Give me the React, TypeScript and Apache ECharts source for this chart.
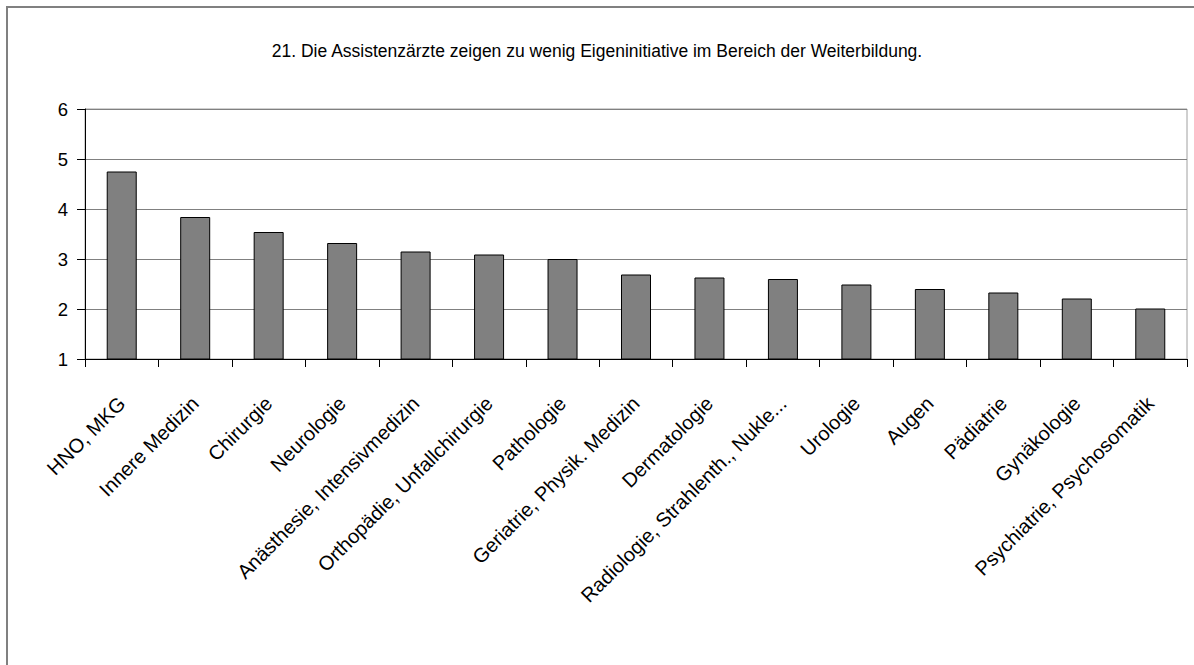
import React, { useEffect, useRef } from "react";
import * as echarts from "echarts";

const titleText =
  "21. Die Assistenzärzte zeigen zu wenig Eigeninitiative im Bereich der Weiterbildung.";

const categories = [
  "HNO, MKG",
  "Innere Medizin",
  "Chirurgie",
  "Neurologie",
  "Anästhesie, Intensivmedizin",
  "Orthopädie, Unfallchirurgie",
  "Pathologie",
  "Geriatrie, Physik. Medizin",
  "Dermatologie",
  "Radiologie, Strahlenth., Nukle...",
  "Urologie",
  "Augen",
  "Pädiatrie",
  "Gynäkologie",
  "Psychiatrie, Psychosomatik",
];

const values = [4.75, 3.84, 3.54, 3.32, 3.15, 3.09, 3.0, 2.69, 2.63, 2.6, 2.49, 2.4, 2.33, 2.21, 2.01];

const yMin = 1;
const yMax = 6;
const yInterval = 1;

const FONT = "'Liberation Sans', Arial, sans-serif";

export default function App() {
  const ref = useRef<HTMLDivElement>(null);

  useEffect(() => {
    if (!ref.current) return;
    const chart = echarts.init(ref.current, undefined, { renderer: "svg" });
    chart.setOption({
      animation: false,
      backgroundColor: "#ffffff",
      textStyle: { fontFamily: FONT },
      graphic: [
        {
          type: "rect",
          shape: { x: 7, y: 7, width: 1200, height: 700 },
          style: { fill: "none", stroke: "#808080", lineWidth: 2 },
          silent: true,
          z: 0,
        },
        {
          type: "text",
          x: 597,
          y: 51,
          style: {
            text: titleText,
            font: `17.5px ${FONT}`,
            fill: "#000000",
            align: "center",
            verticalAlign: "middle",
          },
        },
      ],
      grid: {
        left: 85,
        right: 7,
        top: 109,
        bottom: 306,
        show: true,
        borderColor: "#a0a0a0",
        borderWidth: 1,
        backgroundColor: "transparent",
      },
      xAxis: {
        type: "category",
        data: categories,
        boundaryGap: true,
        axisLine: { show: true, lineStyle: { color: "#000000", width: 1 } },
        axisTick: { show: true, length: 8, lineStyle: { color: "#000000" } },
        axisLabel: {
          interval: 0,
          rotate: 45,
          margin: 41,
          fontSize: 20,
          color: "#000000",
          fontFamily: FONT,
        },
        splitLine: { show: false },
      },
      yAxis: {
        type: "value",
        min: yMin,
        max: yMax,
        interval: yInterval,
        axisLine: { show: true, lineStyle: { color: "#000000", width: 1 } },
        axisTick: { show: true, length: 8, lineStyle: { color: "#000000" } },
        axisLabel: { fontSize: 18.5, color: "#000000", margin: 17, fontFamily: FONT },
        splitLine: { show: true, lineStyle: { color: "#808080", width: 1 } },
      },
      series: [
        {
          type: "bar",
          data: values,
          barWidth: 30,
          itemStyle: { color: "#808080", borderColor: "#000000", borderWidth: 1 },
        },
      ],
    });
    return () => chart.dispose();
  }, []);

  return (
    <div
      ref={ref}
      style={{ position: "fixed", left: 0, top: 0, width: 1194, height: 665 }}
    />
  );
}
